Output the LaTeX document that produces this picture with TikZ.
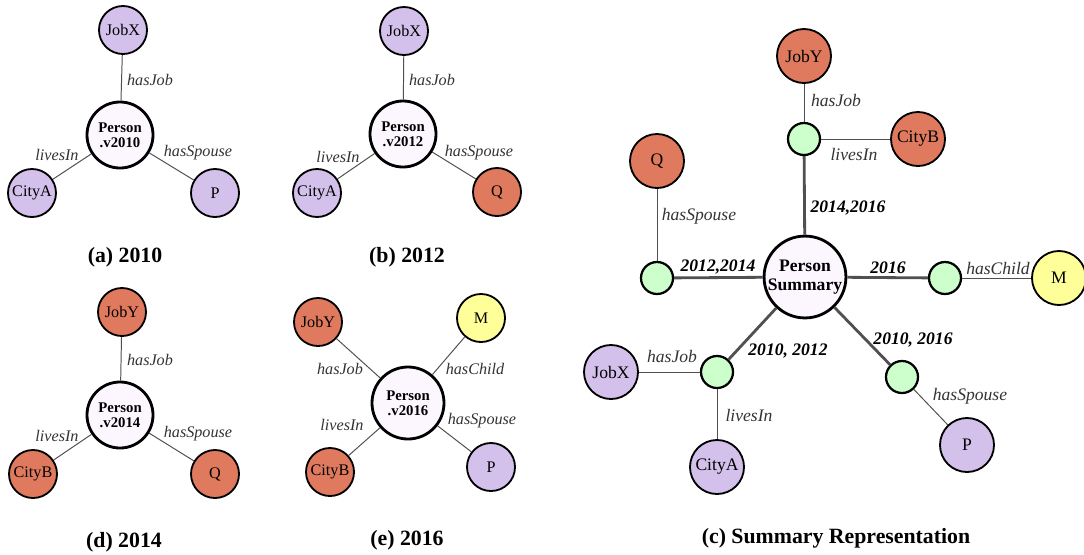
\documentclass[tikz,border=0pt]{standalone}
\usepackage{fontspec}
\setmainfont{Liberation Serif}
\usepackage{tikz}
\definecolor{lav}{RGB}{211,192,235}
\definecolor{rust}{RGB}{224,122,95}
\definecolor{lemon}{RGB}{255,255,153}
\definecolor{mint}{RGB}{204,255,204}
\definecolor{pale}{RGB}{252,246,255}
\definecolor{wire}{RGB}{80,80,80}
\tikzstyle{ent}=[circle,draw,line width=1.3pt,inner sep=0pt,minimum size=1.2cm,font=\fontsize{11.5}{13}\selectfont]
\tikzstyle{bigent}=[ent,minimum size=1.35cm,font=\fontsize{12.5}{14}\selectfont]
\tikzstyle{person}=[circle,draw,line width=2pt,fill=pale,inner sep=0pt,minimum size=1.65cm,align=center,font=\bfseries\fontsize{10.5}{10.5}\selectfont]
\tikzstyle{summ}=[person,minimum size=2cm,font=\bfseries\fontsize{12.5}{14}\selectfont]
\tikzstyle{hub}=[circle,draw,line width=1.6pt,fill=mint,inner sep=0pt,minimum size=0.8cm]
\tikzstyle{rel}=[text=black!80,font=\itshape\fontsize{11.5}{13}\selectfont]
\tikzstyle{bigrel}=[rel,font=\itshape\fontsize{12.5}{14}\selectfont]
\tikzstyle{yrs}=[font=\bfseries\itshape\fontsize{12.5}{14}\selectfont]
\tikzstyle{caption}=[font=\bfseries\fontsize{15.5}{18}\selectfont]
\tikzstyle{spoke}=[wire,line width=0.7pt]
\tikzstyle{trunk}=[wire,line width=2pt]

\begin{document}
\begin{tikzpicture}[x=0.025cm,y=-0.025cm]
\useasboundingbox (0,0) rectangle (1084,554);
% (a) 2010
\node[person] (pa) at (120,135) {Person\\.v2010};
\node[ent,fill=lav] (ja) at (123,30) {JobX};
\node[ent,fill=lav] (ca) at (32,193) {CityA};
\node[ent,fill=lav] (sa) at (215,193) {P};
\draw[spoke] (pa) -- (ja);
\draw[spoke] (pa) -- (ca);
\draw[spoke] (pa) -- (sa);
\node[rel] (la1) at (150,80) {hasJob};
\node[rel] (la2) at (57,155) {livesIn};
\node[rel] (la3) at (198,153) {hasSpouse};
\node[caption] (capa) at (125,257) {(a) 2010};
% (b) 2012
\node[person] (pb) at (403,134) {Person\\.v2012};
\node[ent,fill=lav] (jb) at (404,31) {JobX};
\node[ent,fill=lav] (cb) at (317,193) {CityA};
\node[ent,fill=rust] (sb) at (497,192) {Q};
\draw[spoke] (pb) -- (jb);
\draw[spoke] (pb) -- (cb);
\draw[spoke] (pb) -- (sb);
\node[rel] (lb1) at (432,80) {hasJob};
\node[rel] (lb2) at (338,157) {livesIn};
\node[rel] (lb3) at (479,153) {hasSpouse};
\node[caption] (capb) at (407,257) {(b) 2012};
% (d) 2014
\node[person] (pd) at (120,415) {Person\\.v2014};
\node[ent,fill=rust] (jd) at (122,312) {JobY};
\node[ent,fill=rust] (cd) at (33,474) {CityB};
\node[ent,fill=rust] (sd) at (215,474) {Q};
\draw[spoke] (pd) -- (jd);
\draw[spoke] (pd) -- (cd);
\draw[spoke] (pd) -- (sd);
\node[rel] (ld1) at (150,360) {hasJob};
\node[rel] (ld2) at (57,436) {livesIn};
\node[rel] (ld3) at (198,434) {hasSpouse};
\node[caption] (capd) at (124,542) {(d) 2014};
% (e) 2016
\node[person,minimum size=1.8cm] (pe) at (408,403) {Person\\.v2016};
\node[ent,fill=rust] (je) at (318,322) {JobY};
\node[ent,fill=lemon] (me) at (481,318) {M};
\node[ent,fill=rust] (ce) at (330,472) {CityB};
\node[ent,fill=lav] (se) at (491,467) {P};
\draw[spoke] (pe) -- (je);
\draw[spoke] (pe) -- (me);
\draw[spoke] (pe) -- (ce);
\draw[spoke] (pe) -- (se);
\node[rel] (le1) at (340,369) {hasJob};
\node[rel] (le2) at (475,369) {hasChild};
\node[rel] (le3) at (342,425) {livesIn};
\node[rel] (le4) at (482,421) {hasSpouse};
\node[caption] (cape) at (407,540) {(e) 2016};
% (c) summary
\node[summ] (ps) at (805,277) {Person\\Summary};
\node[hub] (h1) at (804,139) {};
\node[hub] (h2) at (657,278) {};
\node[hub] (h3) at (945,278) {};
\node[hub] (h4) at (717,372) {};
\node[hub] (h5) at (902,377) {};
\node[bigent,fill=rust] (js) at (804,56) {JobY};
\node[bigent,fill=rust] (cbs) at (918,139) {CityB};
\node[bigent,fill=rust] (qs) at (657,161) {Q};
\node[bigent,fill=lemon] (ms) at (1059,278) {M};
\node[bigent,fill=lav] (jxs) at (611,372) {JobX};
\node[bigent,fill=lav] (cas) at (717,467) {CityA};
\node[bigent,fill=lav] (pps) at (967,445) {P};
\draw[trunk] (ps) -- (h1);
\draw[trunk] (ps) -- (h2);
\draw[trunk] (ps) -- (h3);
\draw[trunk] (ps) -- (h4);
\draw[trunk] (ps) -- (h5);
\draw[spoke] (h1) -- (js);
\draw[spoke] (h1) -- (cbs);
\draw[spoke] (h2) -- (qs);
\draw[spoke] (h3) -- (ms);
\draw[spoke] (h4) -- (jxs);
\draw[spoke] (h4) -- (cas);
\draw[spoke] (h5) -- (pps);
\node[bigrel] (lc1) at (836,100) {hasJob};
\node[bigrel] (lc2) at (854,154) {livesIn};
\node[bigrel] (lc3) at (699,216) {hasSpouse};
\node[bigrel] (lc4) at (998,268) {hasChild};
\node[bigrel] (lc5) at (672,356) {hasJob};
\node[bigrel] (lc6) at (749,415) {livesIn};
\node[bigrel] (lc7) at (970,396) {hasSpouse};
\node[yrs] (y1) at (848,208) {2014,2016};
\node[yrs] (y2) at (718,267) {2012,2014};
\node[yrs] (y3) at (888,268) {2016};
\node[yrs] (y4) at (788,351) {2010, 2012};
\node[yrs] (y5) at (913,340) {2010, 2016};
\node[caption] (capc) at (836,538) {(c) Summary Representation};
\end{tikzpicture}
\end{document}
